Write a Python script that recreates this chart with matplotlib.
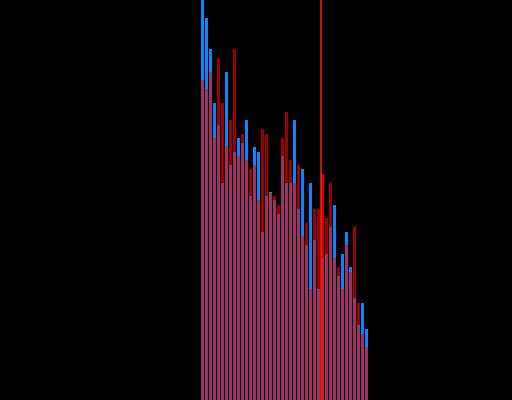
import numpy as np
import matplotlib
matplotlib.use("Agg")
import matplotlib.pyplot as plt

# bar heights (blue series behind, red series on top)
blue_vals = [420, 382, 351, 297, 275, 217, 328, 235, 248, 262, 257, 280, 204, 253,
             248, 168, 204, 208, 200, 186, 244, 217, 217, 280, 191, 231, 155, 217,
             160, 111, 142, 146, 173, 195, 124, 146, 168, 133, 102, 75, 97, 71]
red_vals = [320, 311, 328, 262, 342, 297, 253, 280, 351, 244, 266, 240, 231, 235,
            200, 271, 266, 207, 204, 195, 262, 288, 240, 217, 235, 164, 177, 111,
            191, 191, 226, 182, 217, 142, 133, 111, 155, 128, 173, 97, 66, 53]
marker_pos = 29.5      # vertical marker between bin 29 and 30
highlight_bin = 30

x = np.arange(len(blue_vals))
bg = "#000000"

fig = plt.figure(figsize=(5.12, 4.0), dpi=100, facecolor=bg)
ax = fig.add_axes([0, 0, 1, 1])
ax.set_facecolor(bg)

ax.bar(x, blue_vals, width=0.75, color="#0a84ff", linewidth=0)
red_alpha = [0.8 if i == highlight_bin else 0.6 for i in x]
for i in x:
    ax.bar(i, red_vals[i], width=0.75, color="#ff0000", alpha=red_alpha[i], linewidth=0)

ax.axvline(marker_pos, color="#ff1a1a", linewidth=1.1)

ax.set_xlim(-50.625, 77.375)
ax.set_ylim(0, 400)
ax.axis("off")

fig.savefig("out.png", dpi=100, facecolor=bg)
